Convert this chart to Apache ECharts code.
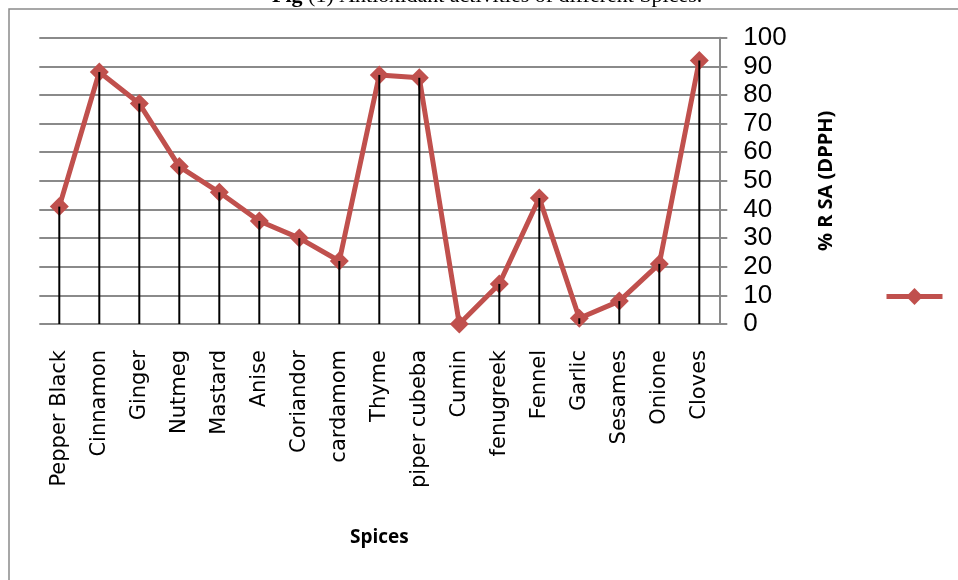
<!DOCTYPE html>
<html>
<head>
<meta charset="utf-8">
<script src="https://cdn.jsdelivr.net/npm/echarts@6/dist/echarts.min.js"></script>
<style>
  html, body { margin: 0; padding: 0; background: #fff; }
  #chart { width: 958px; height: 580px; }
</style>
</head>
<body>
<div id="chart"></div>
<script>
// Spices tested and their DPPH radical scavenging activity (%)
const spices = ['Pepper Black', 'Cinnamon', 'Ginger', 'Nutmeg', 'Mastard', 'Anise', 'Coriandor',
  'cardamom', 'Thyme', 'piper cubeba', 'Cumin', 'fenugreek', 'Fennel', 'Garlic', 'Sesames',
  'Onione', 'Cloves'];
const rsaValues = [41, 88, 77, 55, 46, 36, 30, 22, 87, 86, 0, 14, 44, 2, 8, 21, 92];
const yTicks = [0, 10, 20, 30, 40, 50, 60, 70, 80, 90, 100];

const chart = echarts.init(document.getElementById('chart'));

chart.setOption({
  animation: false,
  backgroundColor: '#fff',
  graphic: [
    {
      type: 'rect',
      shape: { x: 9, y: 9, width: 1200, height: 1000 },
      style: { fill: 'none', stroke: '#8a8a8a', lineWidth: 1.5 },
      silent: true
    },
    {
      type: 'text',
      left: 272,
      top: -15,
      style: {
        text: '{b|Fig} (1) Antioxidant activities of different Spices.',
        rich: {
          b: { fontFamily: 'Liberation Serif', fontSize: 22, fontWeight: 'bold', fill: '#000' }
        },
        font: '22px "Liberation Serif"',
        fill: '#000'
      },
      silent: true
    }
  ],
  legend: {
    show: true,
    left: 879,
    top: 281,
    itemWidth: 56,
    itemHeight: 21,
    data: ['rsa'],
    formatter: () => '',
    selectedMode: false,
    lineStyle: { width: 5, color: '#C0504D' },
    itemStyle: { color: '#C0504D' }
  },
  grid: {
    left: 39.3,
    right: 238.7,
    top: 37.7,
    bottom: 256,
    containLabel: false
  },
  xAxis: {
    type: 'category',
    data: spices,
    boundaryGap: true,
    name: 'Spices',
    nameLocation: 'middle',
    nameGap: 204,
    nameTextStyle: { fontFamily: 'Open Sans', fontWeight: 'bold', fontSize: 19, color: '#000' },
    axisLine: { show: false },
    axisTick: { show: false },
    axisLabel: {
      rotate: 90,
      interval: 0,
      margin: 26,
      fontFamily: 'DejaVu Sans',
      fontSize: 21,
      color: '#000'
    },
    splitLine: { show: false }
  },
  yAxis: {
    type: 'value',
    position: 'right',
    min: 0,
    max: 100,
    interval: 10,
    name: '% R SA (DPPH)',
    nameLocation: 'middle',
    nameRotate: 90,
    nameGap: 97,
    nameTextStyle: { fontFamily: 'Open Sans', fontWeight: 'bold', fontSize: 20, color: '#000' },
    axisLine: { show: true, lineStyle: { color: '#8a8a8a', width: 2 } },
    axisTick: { show: true, inside: false, length: 8, lineStyle: { color: '#8a8a8a', width: 2 } },
    axisLabel: {
      margin: 24,
      align: 'left',
      fontFamily: 'Liberation Sans',
      fontSize: 26,
      color: '#000',
      formatter: (v) => yTicks.includes(v) ? String(v) : ''
    },
    splitLine: { show: true, lineStyle: { color: '#8a8a8a', width: 2 } }
  },
  series: [
    {
      name: 'rsa',
      type: 'line',
      data: rsaValues,
      z: 2,
      symbol: 'diamond',
      symbolSize: 19,
      lineStyle: { color: '#C0504D', width: 5 },
      itemStyle: { color: '#C0504D' }
    },
    {
      // drop lines from each point down to the category axis
      name: 'drop',
      type: 'bar',
      data: rsaValues,
      barWidth: 2,
      z: 3,
      itemStyle: { color: '#000' },
      emphasis: { disabled: true }
    }
  ]
});
</script>
</body>
</html>
